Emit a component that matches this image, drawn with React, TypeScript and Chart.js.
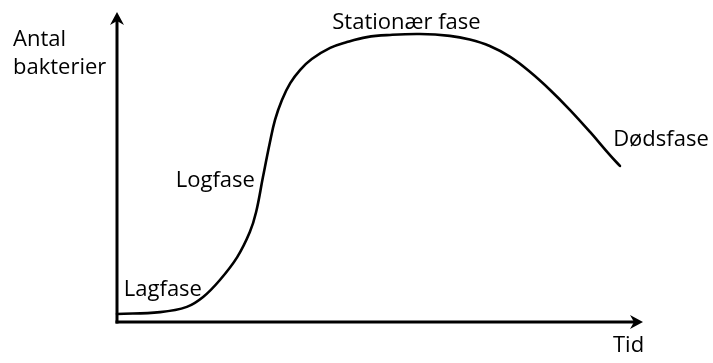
import React, { useEffect, useRef } from "react";
import { Chart, registerables } from "chart.js";

Chart.register(...registerables);

// Growth curve (time in arbitrary units 0-100, bacteria count 0-100)
const timeValues = [0, 8.2, 13.3, 16.4, 19.6, 22.9, 25.3, 26.5, 27.8, 29.1, 30.1, 31.4, 33.0, 34.9, 37.1, 40.6, 43.8, 47.6, 52.0, 57.7, 63.4, 67.2, 71.0, 74.9, 78.7, 82.5, 86.3, 90.1, 93.9, 95.8];
const countValues = [2.6, 3.2, 4.9, 8.1, 13.6, 21.0, 29.1, 35.6, 46.9, 57.9, 65.4, 71.8, 77.3, 81.6, 85.1, 88.7, 90.6, 92.2, 92.9, 93.2, 92.6, 91.4, 89.3, 85.8, 80.9, 75.1, 68.6, 61.5, 54.0, 50.5];

const phaseNames = ["Lagfase", "Logfase", "Stationær fase", "Dødsfase"];
const phaseAnchorX = [1.3, 11.2, 41.0, 94.5];
const phaseAnchorY = [8.4, 43.7, 94.8, 57.0];

const yAxisTitle = ["Antal", "bakterier"];
const xAxisTitle = "Tid";

const FONT = "22px 'Open Sans', sans-serif";

const axesPlugin = {
  id: "arrowAxes",
  afterDraw(chart: any) {
    const ctx = chart.ctx;
    const xs = chart.scales.x;
    const ys = chart.scales.y;
    const x0 = xs.getPixelForValue(0);
    const x1 = xs.getPixelForValue(100);
    const y0 = ys.getPixelForValue(0);
    const y1 = ys.getPixelForValue(100);
    ctx.save();
    ctx.strokeStyle = "#000";
    ctx.fillStyle = "#000";
    ctx.lineWidth = 3;
    ctx.lineCap = "butt";
    // y axis
    ctx.beginPath();
    ctx.moveTo(x0, y0 + 1.5);
    ctx.lineTo(x0, y1 + 8);
    ctx.stroke();
    // x axis
    ctx.beginPath();
    ctx.moveTo(x0 - 1.5, y0);
    ctx.lineTo(x1 - 8, y0);
    ctx.stroke();
    // y arrow head
    ctx.beginPath();
    ctx.moveTo(x0, y1 - 1);
    ctx.lineTo(x0 + 7, y1 + 12);
    ctx.lineTo(x0, y1 + 8);
    ctx.lineTo(x0 - 7, y1 + 12);
    ctx.closePath();
    ctx.fill();
    // x arrow head
    ctx.beginPath();
    ctx.moveTo(x1 + 1, y0);
    ctx.lineTo(x1 - 12, y0 - 7);
    ctx.lineTo(x1 - 8, y0);
    ctx.lineTo(x1 - 12, y0 + 7);
    ctx.closePath();
    ctx.fill();

    // texts
    ctx.font = FONT;
    ctx.textAlign = "left";
    ctx.textBaseline = "alphabetic";
    const area = chart.chartArea;
    ctx.fillText(yAxisTitle[0], area.left - 104, area.top + 33);
    ctx.fillText(yAxisTitle[1], area.left - 104, area.top + 61);
    ctx.fillText(xAxisTitle, area.right - 29, area.bottom + 30);
    phaseNames.forEach((name, i) => {
      ctx.fillText(name, xs.getPixelForValue(phaseAnchorX[i]), ys.getPixelForValue(phaseAnchorY[i]));
    });
    ctx.restore();
  },
};

export default function App() {
  const ref = useRef<HTMLCanvasElement>(null);
  useEffect(() => {
    document.body.style.margin = "0";
    document.body.style.background = "#fff";
    const canvas = ref.current!;
    const chart = new Chart(canvas, {
      type: "line",
      data: {
        datasets: [
          {
            data: timeValues.map((t, i) => ({ x: t, y: countValues[i] })),
            borderColor: "#000",
            borderWidth: 2.6,
            pointRadius: 0,
            tension: 0.4,
            borderCapStyle: "round",
            borderJoinStyle: "round",
            fill: false,
            clip: false as any,
          },
        ],
      },
      options: {
        animation: false,
        responsive: false,
        devicePixelRatio: 1,
        layout: { padding: { left: 117, right: 71, top: 13, bottom: 41 } },
        plugins: { legend: { display: false }, tooltip: { enabled: false }, title: { display: false } },
        events: [],
        scales: {
          x: { type: "linear", min: 0, max: 100, display: false },
          y: { type: "linear", min: 0, max: 100, display: false },
        },
      },
      plugins: [axesPlugin],
    });
    return () => chart.destroy();
  }, []);
  return (
    <div style={{ width: 713, height: 363 }}>
      <canvas ref={ref} width={713} height={363} style={{ display: "block" }} />
    </div>
  );
}
